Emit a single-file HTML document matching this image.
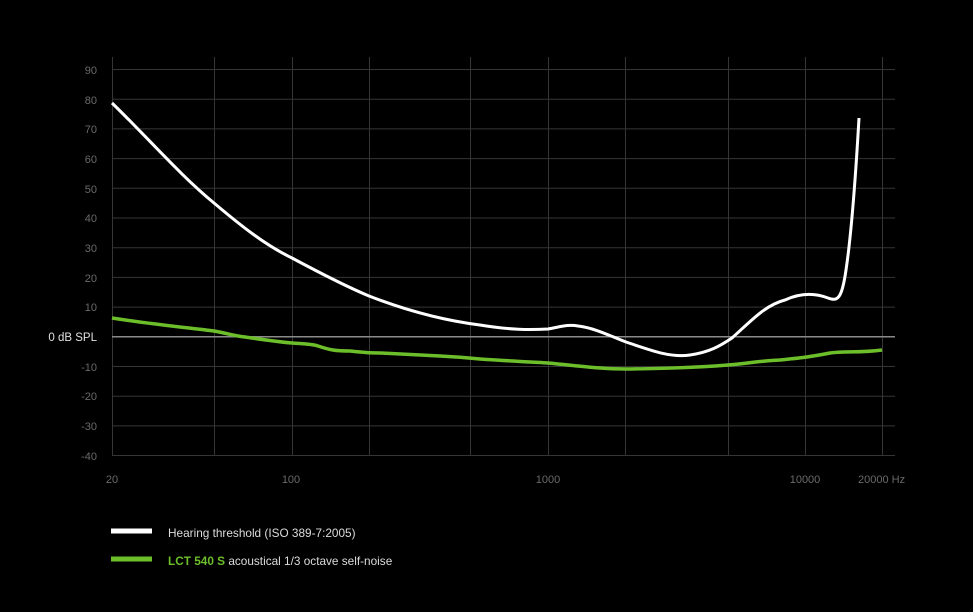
<!DOCTYPE html>
<html><head><meta charset="utf-8"><style>
html,body{margin:0;padding:0;background:#000;}
svg{display:block}
text{font-family:"Liberation Sans",sans-serif;}
</style></head><body>
<svg width="973" height="612" viewBox="0 0 973 612">
<rect width="973" height="612" fill="#000"/>
<g stroke="#363636" stroke-width="1">
<line x1="112" y1="69.5" x2="895" y2="69.5"/>
<line x1="112" y1="99.2" x2="895" y2="99.2"/>
<line x1="112" y1="128.9" x2="895" y2="128.9"/>
<line x1="112" y1="158.6" x2="895" y2="158.6"/>
<line x1="112" y1="188.3" x2="895" y2="188.3"/>
<line x1="112" y1="218" x2="895" y2="218"/>
<line x1="112" y1="247.7" x2="895" y2="247.7"/>
<line x1="112" y1="277.4" x2="895" y2="277.4"/>
<line x1="112" y1="307.1" x2="895" y2="307.1"/>
<line x1="112" y1="366.5" x2="895" y2="366.5"/>
<line x1="112" y1="396.2" x2="895" y2="396.2"/>
<line x1="112" y1="425.9" x2="895" y2="425.9"/>
<line x1="112" y1="455.5" x2="895" y2="455.5"/>
<line x1="112.5" y1="57" x2="112.5" y2="456"/>
<line x1="214.5" y1="57" x2="214.5" y2="456"/>
<line x1="292.5" y1="57" x2="292.5" y2="456"/>
<line x1="369.5" y1="57" x2="369.5" y2="456"/>
<line x1="470.5" y1="57" x2="470.5" y2="456"/>
<line x1="548.5" y1="57" x2="548.5" y2="456"/>
<line x1="625.5" y1="57" x2="625.5" y2="456"/>
<line x1="728.5" y1="57" x2="728.5" y2="456"/>
<line x1="805.5" y1="57" x2="805.5" y2="456"/>
<line x1="882.5" y1="57" x2="882.5" y2="456"/>
</g>
<line x1="112" y1="336.8" x2="895" y2="336.8" stroke="#8a8a8a" stroke-width="1.5"/>
<g fill="#6a6a6a" font-size="11" text-anchor="end">
<text x="97" y="74">90</text><text x="97" y="104">80</text><text x="97" y="133">70</text>
<text x="97" y="163">60</text><text x="97" y="193">50</text><text x="97" y="222">40</text>
<text x="97" y="252">30</text><text x="97" y="282">20</text><text x="97" y="311">10</text>
<text x="97" y="371">-10</text><text x="97" y="400">-20</text><text x="97" y="430">-30</text>
<text x="97" y="460">-40</text>
</g>
<text x="97" y="341" fill="#e0e0e0" font-size="11.5" text-anchor="end">0 dB SPL</text>
<g fill="#6a6a6a" font-size="11" text-anchor="middle">
<text x="112" y="483">20</text><text x="291" y="483">100</text><text x="548" y="483">1000</text>
<text x="805" y="483">10000</text><text x="858" y="483" text-anchor="start">20000 Hz</text>
</g>
<path d="M112,103 C150,140 180,175 214,203 C240,225 265,245 292,258 C320,273 345,286 369,296 C405,310 440,320 480,325 C510,330 530,330 548,329 C560,327 568,324 578,326 C595,328 610,336 626,342 C650,350 670,358 690,355 C710,352 720,346 732,338 C750,322 765,305 785,300 C800,293 815,293 828,298 C838,302 842,298 846,270 C852,230 856,170 859,118" fill="none" stroke="#fff" stroke-width="3"/>
<path d="M112,318 C150,324 190,328 214,331 C230,334 235,336 245,337 C265,340 280,342 292,343 C305,344 312,344 318,346 C330,350 335,351 350,351 C360,352 365,353 380,353 C400,354 420,355 440,356 C460,357 470,358 480,359 C510,361 530,362 548,363 C580,366 600,369 626,369 C660,368.5 690,368 728,365 C750,363 760,361 780,360 C800,358 810,357 830,353 C845,351 860,353 882,350" fill="none" stroke="#6cbf2b" stroke-width="3.5"/>
<line x1="111" y1="531" x2="152" y2="531" stroke="#fff" stroke-width="5"/>
<line x1="111" y1="559" x2="152" y2="559" stroke="#6cbf2b" stroke-width="5"/>
<text x="168" y="537" fill="#dcdcdc" font-size="11.8">Hearing threshold (ISO 389-7:2005)</text>
<text x="168" y="565" fill="#dcdcdc" font-size="11.8"><tspan fill="#6cbf2b" font-weight="bold">LCT 540 S</tspan> acoustical 1/3 octave self-noise</text>
</svg>
</body></html>
